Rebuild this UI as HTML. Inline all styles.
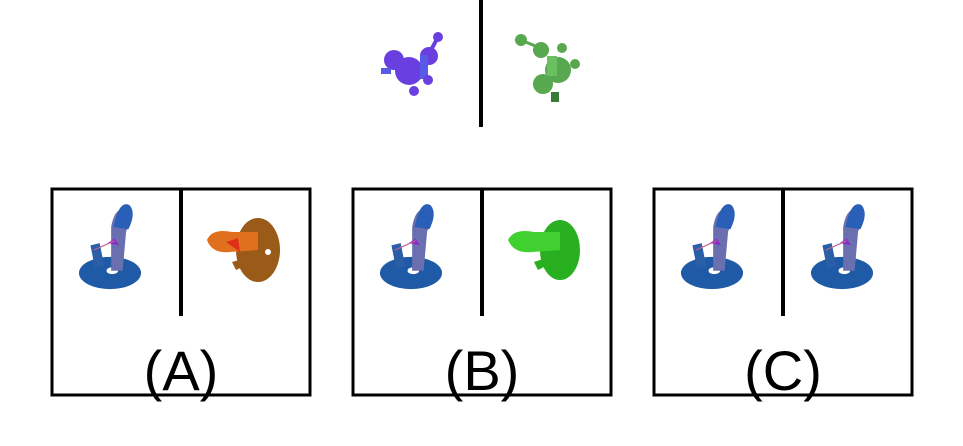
<!DOCTYPE html>
<html><head><meta charset="utf-8"><style>
html,body{margin:0;padding:0;background:#fff;}
svg{display:block;}
text{font-family:"Liberation Sans",sans-serif;}
</style></head><body>
<svg width="963" height="446" viewBox="0 0 963 446">
<defs>
<g id="snake-blue">
  <ellipse cx="0" cy="0" rx="27" ry="14" fill="#1f5aa6"/>
  <ellipse cx="2" cy="-2" rx="5" ry="3" fill="#fff"/>
  <path d="M-13,-4 L-17,-24 L-9,-26 L-5,-6 Z" fill="#2a5fa8"/>
  <path d="M1,-2 L1,-40 Q4,-58 14,-55 Q20,-50 14,-36 L11,-2 Z" fill="#6a6fb0"/>
  <path d="M3,-40 Q8,-64 17,-59 Q23,-52 16,-38 Z" fill="#2a5fb8"/>
  <path d="M4,-30 L-2,-26 L8,-24 Z" fill="#8a2dc8"/>
  <line x1="4" y1="-28" x2="-14" y2="-20" stroke="#c06090" stroke-width="1"/>
</g>
</defs>
<rect width="963" height="446" fill="#fff"/>
<rect x="479" y="0" width="4" height="127" fill="#000"/>
<g fill="#6a3fe0">
  <circle cx="438" cy="37" r="5"/>
  <line x1="438" y1="37" x2="430" y2="52" stroke="#6a3fe0" stroke-width="4"/>
  <circle cx="429" cy="56" r="9"/>
  <circle cx="394" cy="60" r="10"/>
  <circle cx="409" cy="71" r="14"/>
  <rect x="420" y="55" width="8" height="24" fill="#5a5ae8"/>
  <circle cx="428" cy="80" r="5"/>
  <circle cx="414" cy="91" r="5"/>
  <rect x="381" y="68" width="10" height="6" fill="#5a5ae8"/>
</g>
<g fill="#58a850">
  <circle cx="521" cy="40" r="6"/>
  <line x1="521" y1="40" x2="540" y2="48" stroke="#58a850" stroke-width="3"/>
  <circle cx="541" cy="50" r="8"/>
  <circle cx="562" cy="48" r="5"/>
  <circle cx="558" cy="70" r="13"/>
  <circle cx="575" cy="64" r="5"/>
  <circle cx="543" cy="84" r="10"/>
  <rect x="547" y="56" width="10" height="20" fill="#6ac060"/>
  <rect x="551" y="92" width="8" height="10" fill="#3a7a38"/>
</g>
<g>
  <rect x="52" y="189" width="258" height="206" fill="none" stroke="#000" stroke-width="3"/>
  <rect x="179" y="189" width="4" height="127" fill="#000"/>
  <use href="#snake-blue" transform="translate(110,273) scale(1.15)"/>
  <g>
    <ellipse cx="258" cy="250" rx="22" ry="32" fill="#9a5a18"/>
    <path d="M207,240 Q212,228 232,232 L258,232 L258,250 L230,252 Q212,254 207,240 Z" fill="#e0701e"/>
    <path d="M226,242 L238,238 L240,252 Z" fill="#e03018"/>
    <path d="M246,258 L254,262 L236,270 L232,262 Z" fill="#9a5a18"/>
    <circle cx="268" cy="252" r="3" fill="#fff"/>
  </g>
  <text x="181" y="390" font-size="56" text-anchor="middle">(A)</text>
</g>
<g>
  <rect x="353" y="189" width="258" height="206" fill="none" stroke="#000" stroke-width="3"/>
  <rect x="480" y="189" width="4" height="127" fill="#000"/>
  <use href="#snake-blue" transform="translate(411,273) scale(1.15)"/>
  <g>
    <ellipse cx="560" cy="250" rx="20" ry="30" fill="#28b020"/>
    <path d="M508,240 Q514,228 534,232 L560,232 L560,250 L532,252 Q514,254 508,240 Z" fill="#40d030"/>
    <path d="M546,258 L554,262 L538,270 L534,262 Z" fill="#28b020"/>
  </g>
  <text x="482" y="390" font-size="56" text-anchor="middle">(B)</text>
</g>
<g>
  <rect x="654" y="189" width="258" height="206" fill="none" stroke="#000" stroke-width="3"/>
  <rect x="781" y="189" width="4" height="127" fill="#000"/>
  <use href="#snake-blue" transform="translate(712,273) scale(1.15)"/>
  <use href="#snake-blue" transform="translate(842,273) scale(1.15)"/>
  <text x="783" y="390" font-size="56" text-anchor="middle">(C)</text>
</g>
</svg>
</body></html>
